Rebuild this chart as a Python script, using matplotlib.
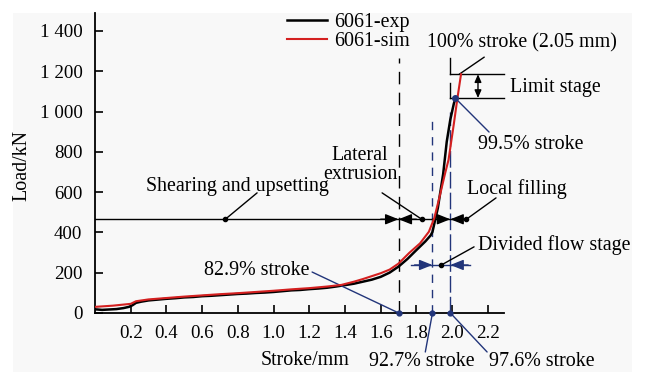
import matplotlib
matplotlib.use("Agg")
import matplotlib.pyplot as plt
from matplotlib.patches import Rectangle

plt.rcParams['font.family'] = ['Liberation Serif', 'DejaVu Serif']
plt.rcParams['font.size'] = 14.4

# stroke (mm) and load (kN) readings
x_exp = [0.00, 0.04, 0.08, 0.12, 0.16, 0.19, 0.21, 0.23, 0.26, 0.30, 0.35, 0.40, 0.45,
         0.50, 0.55, 0.60, 0.65, 0.70, 0.75, 0.80, 0.85, 0.90, 0.95, 1.00, 1.05,
         1.10, 1.15, 1.20, 1.25, 1.30, 1.35, 1.40, 1.45, 1.50, 1.55, 1.60, 1.65,
         1.70, 1.75, 1.80, 1.85, 1.88, 1.89, 1.92, 1.95, 1.97, 1.99, 2.01, 2.02]
y_exp = [18, 15, 17, 19, 24, 30, 38, 50, 56, 62, 66, 70, 73,
         77, 79, 83, 85, 88, 91, 94, 96, 99, 101, 104, 108,
         112, 114, 118, 121, 125, 131, 138, 145, 155, 165, 179, 200,
         230, 268, 312, 355, 385, 402, 520, 690, 850, 960, 1040, 1067]

x_sim = [0.00, 0.10, 0.20, 0.23, 0.30, 0.40, 0.50, 0.60, 0.70, 0.80, 0.90, 1.00,
         1.10, 1.20, 1.30, 1.38, 1.45, 1.50, 1.60, 1.65, 1.70, 1.76, 1.82, 1.87,
         1.90, 1.93, 1.96, 1.98, 2.00, 2.01, 2.03, 2.05]
y_sim = [30, 36, 45, 58, 67, 74, 81, 87, 93, 98, 104, 110,
         117, 123, 131, 139, 155, 168, 197, 215, 245, 298, 345, 403,
         470, 577, 690, 760, 880, 940, 1067, 1185]

x_ticks = [0.2, 0.4, 0.6, 0.8, 1.0, 1.2, 1.4, 1.6, 1.8, 2.0, 2.2]
y_ticks = [0, 200, 400, 600, 800, 1000, 1200, 1400]
y_tick_labels = ['0', '200', '400', '600', '800', '1 000', '1 200', '1 400']

# stage boundaries (mm) and levels (kN)
s_829, s_927, s_976, s_995, s_100 = 1.70, 1.89, 1.99, 2.017, 2.05
stage_load = 465
divided_load = 238
limit_low, limit_high = 1067, 1185

navy = '#22357a'

fig = plt.figure(figsize=(6.46, 3.77), dpi=100)
fig.patches.append(Rectangle((0.02, 0.013), 0.958, 0.952, transform=fig.transFigure,
                             facecolor='#f8f8f8', edgecolor='none', zorder=-10))
ax = fig.add_axes([0.147, 0.170, 0.633, 0.796])
ax.patch.set_alpha(0)

ax.plot(x_exp, y_exp, color='black', lw=1.8, label='6061-exp', zorder=3)
ax.plot(x_sim, y_sim, color='#d42020', lw=1.5, label='6061-sim', zorder=4)

ax.set_xlim(0, 2.29)
ax.set_ylim(0, 1490)
ax.set_xticks(x_ticks)
ax.set_xticklabels([f'{v:.1f}' for v in x_ticks])
ax.set_yticks(y_ticks)
ax.set_yticklabels(y_tick_labels)
ax.tick_params(direction='in', length=6, width=1.2, labelsize=13.6)
ax.tick_params(axis='y', pad=9)
ax.tick_params(axis='x', pad=9)
for side in ['top', 'right']:
    ax.spines[side].set_visible(False)
for side in ['left', 'bottom']:
    ax.spines[side].set_linewidth(1.3)

ax.set_xlabel('Stroke/mm')
ax.xaxis.set_label_coords(0.514, -0.128)
ax.set_ylabel('Load/kN')
ax.yaxis.set_label_coords(-0.155, 0.49)

ax.legend(loc='upper left', bbox_to_anchor=(0.469, 1.0), frameon=False,
          handlelength=2.0, handletextpad=0.35, labelspacing=0.0,
          borderpad=0, borderaxespad=0)

# vertical stage markers
ax.plot([s_829, s_829], [0, 1265], color='black', lw=1.0, ls=(0, (9, 6)))
ax.plot([s_927, s_927], [0, 983], color=navy, lw=1.0, ls=(0, (6, 5)))
ax.plot([s_976, s_976], [0, 1000], color=navy, lw=1.0, ls=(0, (12, 3)))

# horizontal stage line with arrows
ax.plot([0, 2.08], [stage_load, stage_load], color='black', lw=1.0)
arrow_k = dict(arrowstyle='-|>,head_length=0.55,head_width=0.22', color='black', lw=1.0,
               shrinkA=0, shrinkB=0)
ax.annotate('', xy=(s_829, stage_load), xytext=(s_829 - 0.1, stage_load), arrowprops=arrow_k)
ax.annotate('', xy=(s_829, stage_load), xytext=(s_829 + 0.1, stage_load), arrowprops=arrow_k)
ax.annotate('', xy=(s_976, stage_load), xytext=(s_976 - 0.1, stage_load), arrowprops=arrow_k)
ax.annotate('', xy=(s_976, stage_load), xytext=(s_976 + 0.1, stage_load), arrowprops=arrow_k)
ax.plot([0.73, 1.83, 2.08], [stage_load] * 3, 'o', color='black', ms=3)

# divided flow stage
ax.plot([1.77, 2.10], [divided_load, divided_load], color=navy, lw=1.0)
arrow_n = dict(arrowstyle='-|>,head_length=0.55,head_width=0.22', color=navy, lw=1.0,
               shrinkA=0, shrinkB=0)
ax.annotate('', xy=(s_927, divided_load), xytext=(s_927 - 0.1, divided_load), arrowprops=arrow_n)
ax.annotate('', xy=(s_976, divided_load), xytext=(s_976 + 0.1, divided_load), arrowprops=arrow_n)
ax.plot([1.94], [divided_load], 'o', color='black', ms=3)

# limit stage
ax.plot([s_976, 2.29], [limit_high, limit_high], color='black', lw=1.0, clip_on=False)
ax.plot([s_976, 2.29], [limit_low, limit_low], color='black', lw=1.0, clip_on=False)
ax.plot([s_976, s_976], [limit_high, 1265], color='black', lw=1.0)
ax.plot([s_976, s_976], [limit_low, 1141], color='black', lw=1.0)
ax.annotate('', xy=(2.145, limit_high), xytext=(2.145, limit_low),
            arrowprops=dict(arrowstyle='<|-|>,head_length=0.32,head_width=0.14', color='black',
                            lw=1.0, shrinkA=0, shrinkB=0))

# dots at the axis feet of the stage markers
ax.plot([s_829, s_927, s_976], [0, 0, 0], 'o', color=navy, ms=3.5, clip_on=False, zorder=5)
ax.plot([s_995], [1067], 'o', color=navy, ms=4, zorder=5)

line_k = dict(arrowstyle='-', color='black', lw=1.0, shrinkA=0, shrinkB=0)
line_n = dict(arrowstyle='-', color=navy, lw=1.0, shrinkA=0, shrinkB=0)

ax.annotate('', xy=(0.73, stage_load), xytext=(0.908, 596), arrowprops=line_k)
ax.text(0.80, 630, 'Shearing and upsetting', ha='center', va='center')

ax.annotate('', xy=(1.83, stage_load), xytext=(1.608, 596), arrowprops=line_k)
ax.text(1.485, 734, 'Lateral\nextrusion', ha='center', va='center', linespacing=0.95)

ax.annotate('', xy=(2.08, stage_load), xytext=(2.246, 571), arrowprops=line_k,
            annotation_clip=False)
ax.text(2.364, 615, 'Local filling', ha='center', va='center')

ax.annotate('', xy=(1.94, divided_load), xytext=(2.123, 328), arrowprops=line_k,
            annotation_clip=False)
ax.text(2.57, 337, 'Divided flow stage', ha='center', va='center')

ax.annotate('', xy=(s_829, 0), xytext=(1.216, 203), arrowprops=line_n)
ax.text(0.905, 213, '82.9% stroke', ha='center', va='center')

ax.annotate('', xy=(s_927, 0), xytext=(1.85, -194), arrowprops=line_n,
            annotation_clip=False)
ax.text(1.83, -243, '92.7% stroke', ha='center', va='center')

ax.annotate('', xy=(s_976, 0), xytext=(2.196, -194), arrowprops=line_n,
            annotation_clip=False)
ax.text(2.50, -243, '97.6% stroke', ha='center', va='center')

ax.annotate('', xy=(s_995, 1067), xytext=(2.207, 898), arrowprops=line_n,
            annotation_clip=False)
ax.text(2.44, 834, '99.5% stroke', ha='center', va='center')

ax.annotate('', xy=(2.04, limit_high), xytext=(2.18, 1270), arrowprops=line_k,
            annotation_clip=False)
ax.text(2.39, 1340, '100% stroke (2.05 mm)', ha='center', va='center')

ax.text(2.58, 1117, 'Limit stage', ha='center', va='center')

fig.savefig('out.png', dpi=100)
